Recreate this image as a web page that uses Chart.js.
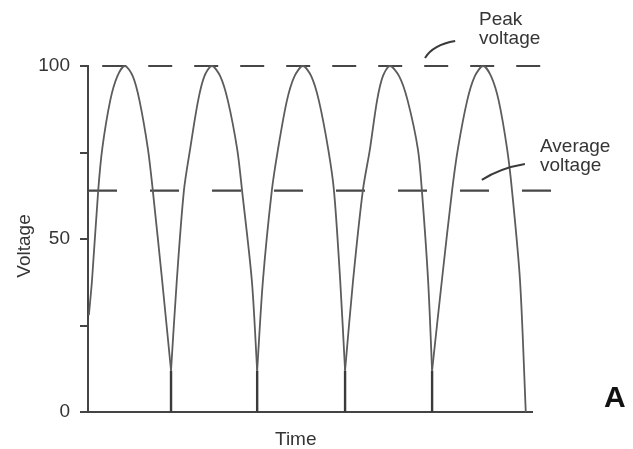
<!DOCTYPE html>
<html>
<head>
<meta charset="utf-8">
<script src="https://cdn.jsdelivr.net/npm/chart.js@4"></script>
<style>
  html, body { margin: 0; padding: 0; background: #fff; }
  #wrap { width: 633px; height: 449px; position: relative; }
</style>
</head>
<body>
<div id="wrap"><canvas id="rectChart"></canvas></div>
<script>
// Full-wave rectified voltage vs. time
const Y_TICKS = [0, 25, 50, 75, 100];
const Y_LABELS = [0, 50, 100];
const PEAK_V = 100;
const AVG_V = 64;

// one array pair per half-wave hump (time, voltage)
const hump1T = [0.2, 0.9, 2.3, 3.2, 5.0, 6.6, 8.3, 10.1, 11.6, 13.5, 14.6, 16.7, 18.7];
const hump1V = [28, 38, 64, 76, 90, 97, 100, 97, 90, 76, 64, 38, 12];
const hump2T = [18.7, 20.0, 21.6, 23.0, 24.8, 26.2, 27.9, 29.8, 31.5, 33.6, 34.7, 36.9, 38.1];
const hump2V = [12, 38, 64, 76, 90, 97, 100, 97, 90, 76, 64, 38, 12];
const hump3T = [38.1, 39.4, 41.4, 42.8, 44.8, 46.5, 48.4, 50.3, 52.0, 54.1, 55.4, 56.8, 57.9];
const hump3V = [12, 38, 64, 76, 90, 97, 100, 97, 90, 76, 64, 38, 12];
const hump4T = [57.9, 59.7, 61.9, 63.5, 65.1, 66.4, 68.0, 70.1, 72.0, 74.3, 75.2, 76.6, 77.5];
const hump4V = [12, 38, 64, 76, 90, 97, 100, 97, 90, 76, 64, 38, 12];
const hump5T = [77.5, 79.7, 82.0, 83.3, 85.4, 87.1, 89.0, 90.8, 92.5, 94.4, 95.5, 97.3, 98.6];
const hump5V = [12, 38, 64, 76, 90, 97, 100, 97, 90, 76, 64, 38, 0];

// short vertical stubs where two humps meet
const cuspT = [18.7, 38.1, 57.9, 77.5];
const cuspV = 12;

// extent of the dashed reference lines (time units)
const peakSpan = [3.2, 103.4];
const avgSpan = [0, 105.6];

const FONT = "'Liberation Sans', Arial, Helvetica, sans-serif";
const INK = '#353535';
const CURVE = '#5c5c5c';

const pts = (t, v) => t.map((x, i) => ({ x, y: v[i] }));

const humps = [
  [hump1T, hump1V], [hump2T, hump2V], [hump3T, hump3V], [hump4T, hump4V], [hump5T, hump5V],
].map(([t, v]) => ({
  data: pts(t, v),
  borderColor: CURVE,
  borderWidth: 1.8,
  pointRadius: 0,
  tension: 0.3,
  clip: false,
}));

const cuspData = [];
cuspT.forEach(t => {
  cuspData.push({ x: t, y: 0 }, { x: t, y: cuspV }, { x: t, y: null });
});

const datasets = [
  ...humps,
  {
    data: cuspData,
    borderColor: '#3a3a3a',
    borderWidth: 2.4,
    pointRadius: 0,
    tension: 0,
    spanGaps: false,
    clip: false,
  },
  {
    data: [{ x: peakSpan[0], y: PEAK_V }, { x: peakSpan[1], y: PEAK_V }],
    borderColor: '#464646',
    borderWidth: 2.2,
    borderDash: [24, 22],
    pointRadius: 0,
    clip: false,
  },
  {
    data: [{ x: avgSpan[0], y: AVG_V }, { x: avgSpan[1], y: AVG_V }],
    borderColor: '#464646',
    borderWidth: 2.2,
    borderDash: [29, 33],
    pointRadius: 0,
    clip: false,
  },
];

// labels, leader lines and the panel letter
const annotations = {
  id: 'annotations',
  afterDatasetsDraw(chart) {
    const { ctx, scales: { x, y } } = chart;
    const P = (t, v) => [x.getPixelForValue(t), y.getPixelForValue(v)];
    ctx.save();
    ctx.fillStyle = INK;
    ctx.strokeStyle = '#3a3a3a';
    ctx.font = `19px ${FONT}`;
    ctx.textBaseline = 'alphabetic';
    ctx.textAlign = 'left';

    ctx.fillText('Peak', 479, 25);
    ctx.fillText('voltage', 479, 44);
    ctx.fillText('Average', 540, 152);
    ctx.fillText('voltage', 540, 171);
    ctx.fillText('Time', 275, 445);

    // leader lines
    ctx.lineWidth = 2;
    const leader = (a, c, b) => {
      ctx.beginPath();
      ctx.moveTo(...P(...a));
      ctx.quadraticCurveTo(...P(...c), ...P(...b));
      ctx.stroke();
    };
    leader([75.9, 102.3], [77.7, 106.1], [82.7, 107.2]);
    leader([88.7, 67.1], [92.8, 70.5], [98.4, 71.7]);

    // y axis title
    ctx.save();
    ctx.translate(30, 246);
    ctx.rotate(-Math.PI / 2);
    ctx.textAlign = 'center';
    ctx.fillText('Voltage', 0, 0);
    ctx.restore();

    ctx.font = `bold 30px ${FONT}`;
    ctx.fillStyle = '#111';
    ctx.fillText('A', 604, 407);
    ctx.restore();
  }
};

new Chart(document.getElementById('rectChart'), {
  type: 'line',
  data: { datasets },
  options: {
    responsive: true,
    maintainAspectRatio: false,
    animation: false,
    layout: { padding: { left: 0, top: 66, right: 101, bottom: 0 } },
    plugins: { legend: { display: false }, tooltip: { enabled: false } },
    scales: {
      x: {
        type: 'linear',
        min: 0,
        max: 100,
        ticks: { display: false },
        grid: { display: true, drawOnChartArea: false, drawTicks: false },
        border: { display: true, color: '#444', width: 2 },
        afterFit: (s) => { s.height = 37; },
      },
      y: {
        min: 0,
        max: 100,
        afterBuildTicks: (s) => { s.ticks = Y_TICKS.map(value => ({ value })); },
        ticks: {
          padding: 10,
          color: INK,
          font: { family: FONT, size: 19 },
          callback: (v) => (Y_LABELS.includes(v) ? String(v) : ''),
        },
        grid: { display: true, drawOnChartArea: false, drawTicks: true, tickLength: 8, color: '#444', lineWidth: 2 },
        border: { display: true, color: '#444', width: 2 },
        afterFit: (s) => { s.width = 88; },
      },
    },
  },
  plugins: [annotations],
});
</script>
</body>
</html>
